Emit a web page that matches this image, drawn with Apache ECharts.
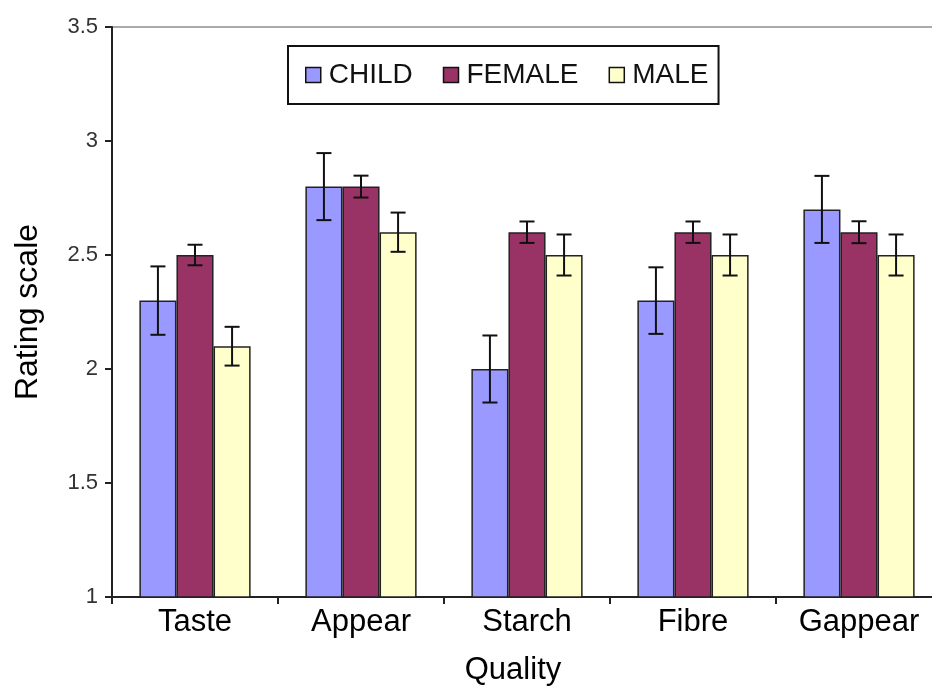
<!DOCTYPE html>
<html><head><meta charset="utf-8">
<script src="https://cdn.jsdelivr.net/npm/echarts@6/dist/echarts.min.js"></script>
<style>html,body{margin:0;padding:0;background:#fff;overflow:hidden}#c{width:944px;height:691px}</style>
</head><body><div id="c"></div>
<script>
var categories = ['Taste', 'Appear', 'Starch', 'Fibre', 'Gappear'];
var seriesNames = ['CHILD', 'FEMALE', 'MALE'];
var childVals = [2.3, 2.8, 2.0, 2.3, 2.7];
var femaleVals = [2.5, 2.8, 2.6, 2.6, 2.6];
var maleVals = [2.1, 2.6, 2.5, 2.5, 2.5];
var childErr = [0.15, 0.147, 0.147, 0.146, 0.147];
var femaleErr = [0.045, 0.048, 0.047, 0.047, 0.048];
var maleErr = [0.085, 0.086, 0.09, 0.09, 0.09];
var colors = ['#9999FF', '#993366', '#FFFFCC'];

var values = [childVals, femaleVals, maleVals];
var errs = [childErr, femaleErr, maleErr];
var CAT_GAP = 0.33;

var chart = echarts.init(document.getElementById('c'), null, {renderer: 'canvas'});
var series = [];
seriesNames.forEach(function (n, i) {
  series.push({
    name: n, type: 'bar', data: values[i],
    barGap: '0%', barCategoryGap: '33%',
    itemStyle: {color: colors[i], borderColor: '#222', borderWidth: 1.5},
    z: 2
  });
});
seriesNames.forEach(function (n, i) {
  var data = categories.map(function (c, k) {
    return [k, values[i][k] - errs[i][k], values[i][k] + errs[i][k]];
  });
  series.push({
    type: 'custom', name: n + '_err', data: data, z: 5, silent: true,
    renderItem: function (params, api) {
      var catW = api.size([1, 0])[0];
      var bw = catW * (1 - CAT_GAP) / 3;
      var lo = api.coord([api.value(0), api.value(1)]);
      var hi = api.coord([api.value(0), api.value(2)]);
      var x = lo[0] + (i - 1) * bw;
      var cap = 7.5;
      var st = {stroke: '#111', lineWidth: 2};
      return {type: 'group', children: [
        {type: 'line', shape: {x1: x, y1: lo[1], x2: x, y2: hi[1]}, style: st},
        {type: 'line', shape: {x1: x - cap, y1: lo[1], x2: x + cap, y2: lo[1]}, style: st},
        {type: 'line', shape: {x1: x - cap, y1: hi[1], x2: x + cap, y2: hi[1]}, style: st}
      ]};
    }
  });
});

chart.setOption({
  animation: false,
  backgroundColor: '#fff',
  textStyle: {fontFamily: 'Liberation Sans, Arial, sans-serif'},
  grid: {left: 112, top: 27, width: 830, height: 573, show: true, borderColor: '#aaa', borderWidth: 2},
  legend: {
    data: seriesNames, left: 288, top: 46, orient: 'horizontal', icon: 'rect',
    itemWidth: 15, itemHeight: 15, itemGap: 30,
    padding: [15, 10, 15, 17],
    borderColor: '#111', borderWidth: 2,
    textStyle: {fontSize: 28, color: '#111', fontFamily: 'Liberation Sans, Arial, sans-serif', padding: [0, 0, 0, 3]},
    itemStyle: {borderColor: '#111', borderWidth: 1.5}
  },
  xAxis: {
    type: 'category', data: categories,
    name: 'Quality', nameLocation: 'middle', nameGap: 58,
    nameTextStyle: {fontSize: 31, color: '#000', padding: [0, 28, 0, 0]},
    axisLine: {lineStyle: {color: '#222', width: 2}},
    axisTick: {show: true, length: 7, lineStyle: {color: '#222', width: 2}},
    axisLabel: {fontSize: 31, color: '#000', margin: 10}
  },
  yAxis: {
    type: 'value', min: 1, max: 3.5, interval: 0.5,
    name: 'Rating scale', nameLocation: 'middle', nameGap: 68, nameRotate: 90,
    nameTextStyle: {fontSize: 32, color: '#000'},
    axisLine: {show: true, lineStyle: {color: '#222', width: 2}},
    axisTick: {show: true, length: 7, lineStyle: {color: '#222', width: 2}},
    splitLine: {show: false},
    axisLabel: {fontSize: 22, color: '#333', margin: 14}
  },
  series: series
});
</script>
</body></html>
